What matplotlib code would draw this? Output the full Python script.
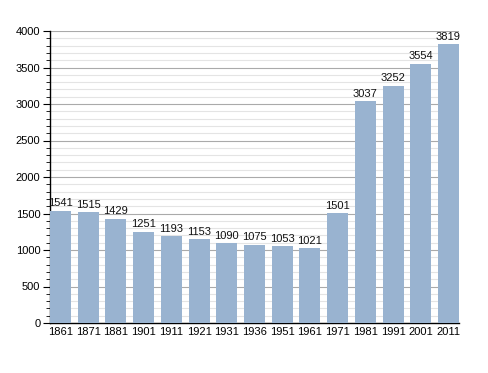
from matplotlib import pyplot as plt
from matplotlib.ticker import MultipleLocator
import numpy as np

years = ["1861", "1871", "1881", "1901", "1911", "1921", "1931", "1936",
         "1951", "1961", "1971", "1981", "1991", "2001", "2011"]
population = [1541, 1515, 1429, 1251, 1193, 1153, 1090, 1075,
              1053, 1021, 1501, 3037, 3252, 3554, 3819]

plt.rcParams['font.family'] = ['Liberation Sans', 'DejaVu Sans']

fig = plt.figure(figsize=(4.88, 3.73), dpi=100)
ax = fig.add_axes([50 / 488, 50 / 373, 409 / 488, 292 / 373])

x = np.arange(len(years))
bars = ax.bar(x, population, width=0.76, color="#99b3d0", zorder=3)
for b, v in zip(bars, population):
    ax.text(b.get_x() + b.get_width() / 2, v + 30, str(v),
            ha="center", va="bottom", fontsize=8, color="#111111", zorder=4)

ax.set_xlim(-0.38, len(years) - 1 + 0.38)
ax.set_ylim(0, 4000)
ax.set_xticks(x)
ax.set_xticklabels(years)
ax.yaxis.set_major_locator(MultipleLocator(500))
ax.yaxis.set_minor_locator(MultipleLocator(100))
ax.grid(axis="y", which="major", color="#aaaaaa", linewidth=0.8, zorder=1)
ax.grid(axis="y", which="minor", color="#e4e4e4", linewidth=0.8, zorder=0)

for s in ["top", "right"]:
    ax.spines[s].set_visible(False)
ax.spines["left"].set_linewidth(1.0)
ax.spines["bottom"].set_linewidth(1.0)
ax.tick_params(axis="x", length=0, labelsize=8, pad=3)
ax.tick_params(axis="y", which="major", length=5, labelsize=8, pad=2)
ax.tick_params(axis="y", which="minor", length=3)

plt.savefig("out.png", dpi=100)
